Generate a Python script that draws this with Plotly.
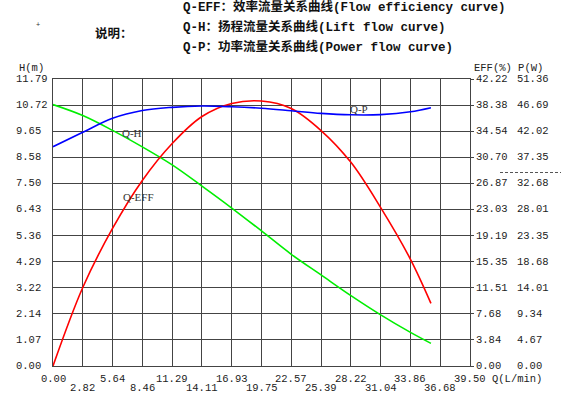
import plotly.graph_objects as go

# ---- data ----
Q = [0, 2.82, 5.64, 8.46, 11.29, 14.11, 16.93, 19.75, 22.57, 25.39, 28.22, 31.04, 33.86, 35.8]
H = [10.74, 10.29, 9.68, 9.00, 8.26, 7.39, 6.49, 5.55, 4.59, 3.74, 2.89, 2.10, 1.38, 0.93]
EFF = [0, 11.55, 20.23, 27.29, 32.73, 36.70, 38.62, 38.98, 37.88, 34.64, 29.96, 23.3, 15.7, 9.22]
P = [39.24, 41.82, 44.33, 45.72, 46.29, 46.53, 46.40, 46.12, 45.67, 45.20, 44.95, 44.99, 45.49, 46.22]

Q_TICKS = ["0.00", "2.82", "5.64", "8.46", "11.29", "14.11", "16.93", "19.75",
           "22.57", "25.39", "28.22", "31.04", "33.86", "36.68", "39.50"]
H_TICKS = ["0.00", "1.07", "2.14", "3.22", "4.29", "5.36", "6.43", "7.50",
           "8.58", "9.65", "10.72", "11.79"]
EFF_TICKS = ["0.00", "3.84", "7.68", "11.51", "15.35", "19.19", "23.03", "26.87",
             "30.70", "34.54", "38.38", "42.22"]
P_TICKS = ["0.00", "4.67", "9.34", "14.01", "18.68", "23.35", "28.01", "32.68",
           "37.35", "42.02", "46.69", "51.36"]

TITLE_LINES = ["Q-EFF：效率流量关系曲线(Flow efficiency curve)",
               "Q-H：扬程流量关系曲线(Lift flow curve)",
               "Q-P：功率流量关系曲线(Power flow curve)"]

W, HT = 561, 397
ML, MR, MT, MB = 53, 91, 79, 31

MONO = "Liberation Mono, Noto Sans CJK SC"
TICKFONT = dict(family="Liberation Mono", size=10.5, color="#222")
GRID = "#444"

fig = go.Figure()
fig.add_trace(go.Scatter(x=Q, y=H, mode="lines", line=dict(color="#00ee00", width=1.6, shape="spline"),
                         xaxis="x", yaxis="y", showlegend=False, hoverinfo="skip"))
fig.add_trace(go.Scatter(x=Q, y=EFF, mode="lines", line=dict(color="#ff0000", width=1.6, shape="spline"),
                         xaxis="x", yaxis="y2", showlegend=False, hoverinfo="skip"))
fig.add_trace(go.Scatter(x=Q, y=P, mode="lines", line=dict(color="#0000ff", width=1.6, shape="spline"),
                         xaxis="x", yaxis="y3", showlegend=False, hoverinfo="skip"))

qv = [float(t) for t in Q_TICKS]
hv = [float(t) for t in H_TICKS]
ev = [float(t) for t in EFF_TICKS]
pv = [float(t) for t in P_TICKS]

fig.update_layout(
    width=W, height=HT,
    margin=dict(l=ML, r=MR, t=MT, b=MB, autoexpand=False),
    paper_bgcolor="white", plot_bgcolor="white",
    xaxis=dict(range=[0, 39.5], tickvals=qv, showticklabels=False, automargin=False,
               showgrid=True, gridcolor=GRID, gridwidth=1, zeroline=False,
               showline=True, mirror=True, linecolor=GRID, linewidth=1, ticks=""),
    yaxis=dict(range=[0, 11.79], tickvals=hv, showticklabels=False, automargin=False,
               showgrid=True, gridcolor=GRID, gridwidth=1, zeroline=False,
               showline=True, mirror=True, linecolor=GRID, linewidth=1, ticks=""),
    yaxis2=dict(range=[0, 42.22], overlaying="y", side="right", anchor="x", automargin=False,
                tickvals=ev, showticklabels=False, showgrid=False, zeroline=False, showline=False,
                ticks="outside", ticklen=3, tickcolor=GRID),
    yaxis3=dict(range=[0, 51.36], overlaying="y", side="right", anchor="x", automargin=False,
                tickvals=pv, showticklabels=False, showgrid=False, zeroline=False,
                showline=False, ticks=""),
)


def px(x, y):
    """pixel position -> paper coords"""
    return (x - ML) / (W - ML - MR), (HT - MB - y) / (HT - MT - MB)


def pxx(x):
    return px(x, 0)[0]


def pxy(y):
    return px(0, y)[1]


anns = []


def label(text, x, y, font, xanchor="left"):
    xx, yy = px(x, y)
    anns.append(dict(text=text, x=xx, y=yy, xref="paper", yref="paper", xanchor=xanchor,
                     yanchor="middle", showarrow=False, font=font))


# tick labels placed through axis scales
for v, t in zip(hv, H_TICKS):
    anns.append(dict(text=t, x=pxx(14), y=v, xref="paper", yref="y", xanchor="left",
                     yanchor="middle", showarrow=False, font=TICKFONT))
for v, t in zip(ev, EFF_TICKS):
    anns.append(dict(text=t, x=pxx(474), y=v, xref="paper", yref="y2", xanchor="left",
                     yanchor="middle", showarrow=False, font=TICKFONT))
for v, t in zip(pv, P_TICKS):
    anns.append(dict(text=t, x=pxx(515), y=v, xref="paper", yref="y3", xanchor="left",
                     yanchor="middle", showarrow=False, font=TICKFONT))
for i, (v, t) in enumerate(zip(qv, Q_TICKS)):
    anns.append(dict(text=t, x=v, y=pxy(378.5 if i % 2 == 0 else 387.5), xref="x", yref="paper",
                     xanchor="center", yanchor="middle", showarrow=False, font=TICKFONT))

TFONT = dict(family=MONO, size=12.5, color="#111")
for i, line in enumerate(TITLE_LINES):
    label("<b>" + line + "</b>", 181, 7 + i * 19.8, TFONT)
label("<b>说明：</b>", 93, 33.5, TFONT)

SMALL = dict(family="Liberation Mono", size=10.5, color="#222")
label("H(m)", 17, 68, SMALL)
label("EFF(%)\u00a0P(W)", 472, 67.5, SMALL)
label("Q(L/min)", 490, 378.5, SMALL)
CURVE = dict(family="Liberation Serif", size=11, color="#333")
label("Q-H", 120, 133, CURVE)
label("Q-EFF", 121, 197, CURVE)
label("Q-P", 348, 109, CURVE)
label("+", 34, 25, dict(family="Liberation Mono", size=7, color="#333"))

fig.layout.annotations = anns

# dashed line at right margin
x0, y0 = px(500, 172.5)
x1, _ = px(561, 172.5)
fig.add_shape(type="line", xref="paper", yref="paper", x0=x0, x1=x1, y0=y0, y1=y0,
              line=dict(color="#555", width=1, dash="3px,2px"))

fig.write_html("out.html", config={"displayModeBar": False, "staticPlot": True},
               post_script="document.body.style.margin='0';document.body.style.padding='0';")
